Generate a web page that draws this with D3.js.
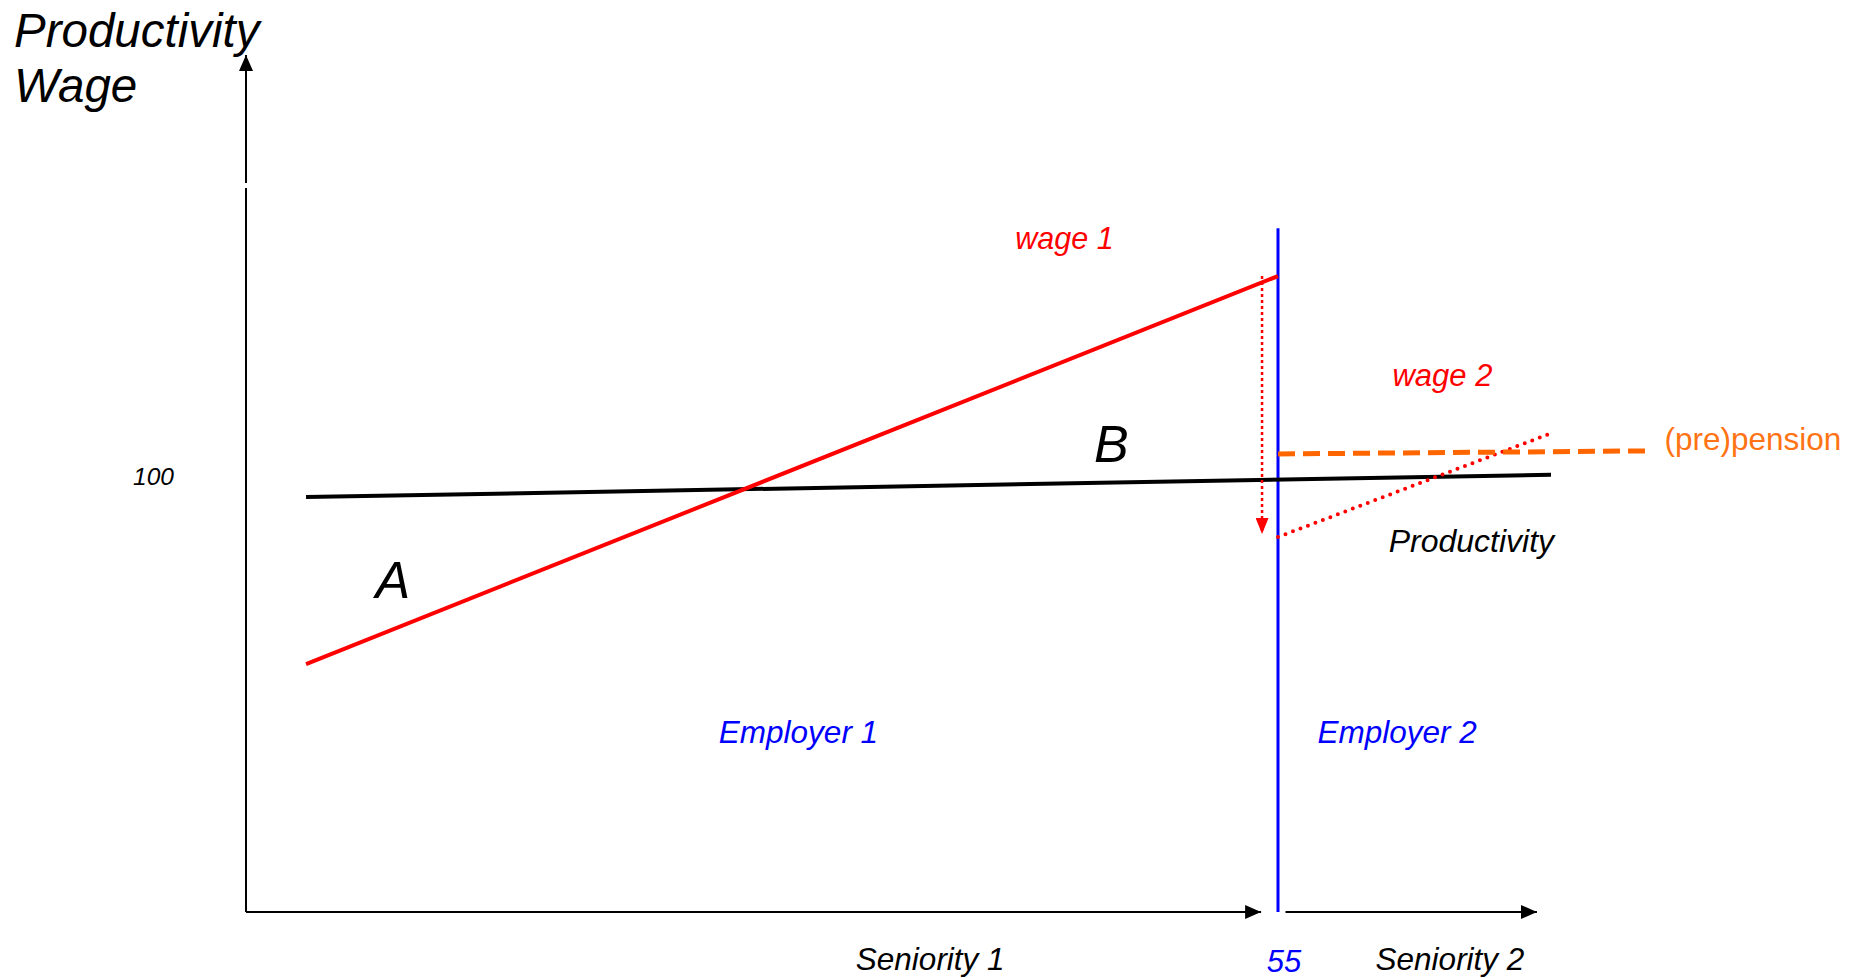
<!DOCTYPE html>
<html>
<head>
<meta charset="utf-8">
<script src="https://cdn.jsdelivr.net/npm/d3@7"></script>
<style>
  html, body { margin: 0; padding: 0; background: #fff; }
  svg { display: block; font-family: 'Liberation Sans', Arial, sans-serif; }
</style>
</head>
<body>
<div id="chart"></div>
<script>
// seniority units (0 = y axis, 55 = switch of employer), index units (100 = productivity level)
const productivity = [{ x: 3.2, y: 95.4 }, { x: 69.55, y: 100.5 }]
const wage1 = [{ x: 3.2, y: 57 }, { x: 55, y: 146.2 }]
const wageDrop = [{ x: 54.15, y: 146.2 }, { x: 54.15, y: 86.9 }]
const wage2 = [{ x: 55, y: 86.2 }, { x: 69.7, y: 110.3 }]
const pension = [{ x: 55, y: 105.3 }, { x: 74.6, y: 106 }]
const switchLine = [{ x: 55, y: 0 }, { x: 55, y: 157.2 }]
const seniorityAxes = [[0, 54.1], [55.4, 68.8]]

const labels = [
  { text: 'wage 1', x: 41.0, y: 152.4, color: '#ff0000', size: 30.5 },
  { text: 'wage 2', x: 61.1, y: 120.9, color: '#ff0000', size: 31 },
  { text: 'Productivity', x: 60.9, y: 82.8, color: '#000', size: 32 },
  { text: 'A', x: 6.9, y: 72.2, color: '#000', size: 52 },
  { text: 'B', x: 45.2, y: 103.4, color: '#000', size: 52 },
  { text: 'Employer 1', x: 25.2, y: 38.9, color: '#0000ff', size: 31.5 },
  { text: 'Employer 2', x: 57.1, y: 38.9, color: '#0000ff', size: 31.5 },
  { text: 'Seniority 1', x: 32.5, y: -13.3, color: '#000', size: 31.5 },
  { text: 'Seniority 2', x: 60.2, y: -13.3, color: '#000', size: 31.5 },
]

const width = 1850
const height = 978

const x = d3.scaleLinear().domain([0, 55]).range([246, 1278])
const y = d3.scaleLinear().domain([0, 100]).range([912, 477])

const svg = d3.select('#chart').append('svg')
  .attr('width', width)
  .attr('height', height)

const defs = svg.append('defs')
function arrow(id, color, w, l) {
  defs.append('marker')
    .attr('id', id)
    .attr('viewBox', `0 0 ${l} ${w}`)
    .attr('refX', l)
    .attr('refY', w / 2)
    .attr('markerWidth', l)
    .attr('markerHeight', w)
    .attr('markerUnits', 'userSpaceOnUse')
    .attr('orient', 'auto')
    .append('path')
    .attr('d', `M0,0L${l},${w / 2}L0,${w}Z`)
    .attr('fill', color)
}
arrow('arr-black', '#000', 14, 16)
arrow('arr-red', '#ff0000', 13, 16)

const line = d3.line().x((d) => x(d.x)).y((d) => y(d.y))

// y axis (with the small break near the top)
svg.append('line')
  .attr('x1', x(0)).attr('x2', x(0))
  .attr('y1', y(0)).attr('y2', 188)
  .attr('stroke', '#000').attr('stroke-width', 2)
svg.append('line')
  .attr('x1', x(0)).attr('x2', x(0))
  .attr('y1', 183).attr('y2', 55)
  .attr('stroke', '#000').attr('stroke-width', 2)
  .attr('marker-end', 'url(#arr-black)')

// two seniority axes
svg.selectAll('.xaxis')
  .data(seniorityAxes)
  .join('line')
  .attr('class', 'xaxis')
  .attr('x1', (d) => x(d[0])).attr('x2', (d) => x(d[1]))
  .attr('y1', y(0)).attr('y2', y(0))
  .attr('stroke', '#000').attr('stroke-width', 2)
  .attr('marker-end', 'url(#arr-black)')

svg.append('text')
  .attr('x', 14).attr('y', 47)
  .attr('font-size', 47.5).attr('font-style', 'italic')
  .text('Productivity')
svg.append('text')
  .attr('x', 14).attr('y', 102)
  .attr('font-size', 47.5).attr('font-style', 'italic')
  .text('Wage')

svg.append('text')
  .attr('x', x(0) - 72).attr('y', y(100) + 8)
  .attr('text-anchor', 'end')
  .attr('font-size', 24.5).attr('font-style', 'italic')
  .text('100')

// switch at 55
svg.append('path')
  .attr('d', line(switchLine))
  .attr('fill', 'none').attr('stroke', '#0000ff').attr('stroke-width', 3)
svg.append('text')
  .attr('x', x(55) + 6).attr('y', y(0) + 60)
  .attr('text-anchor', 'middle')
  .attr('font-size', 31).attr('font-style', 'italic')
  .attr('fill', '#0000ff')
  .text('55')

svg.append('path')
  .attr('d', line(productivity))
  .attr('fill', 'none').attr('stroke', '#000').attr('stroke-width', 4)

svg.append('path')
  .attr('d', line(wage1))
  .attr('fill', 'none').attr('stroke', '#ff0000').attr('stroke-width', 4)

svg.append('path')
  .attr('d', line(wageDrop))
  .attr('fill', 'none').attr('stroke', '#ff0000').attr('stroke-width', 2.5)
  .attr('stroke-dasharray', '3 3')
  .attr('marker-end', 'url(#arr-red)')

svg.append('path')
  .attr('d', line(wage2))
  .attr('fill', 'none').attr('stroke', '#ff0000').attr('stroke-width', 4)
  .attr('stroke-linecap', 'round')
  .attr('stroke-dasharray', '0 8')

svg.append('path')
  .attr('d', line(pension))
  .attr('fill', 'none').attr('stroke', '#ff6600').attr('stroke-width', 5)
  .attr('stroke-dasharray', '17 8')

svg.append('text')
  .attr('x', x(75.6)).attr('y', y(106.2))
  .attr('font-size', 31.5)
  .attr('fill', '#ff7314')
  .text('(pre)pension')

svg.selectAll('.lbl')
  .data(labels)
  .join('text')
  .attr('class', 'lbl')
  .attr('x', (d) => x(d.x))
  .attr('y', (d) => y(d.y))
  .attr('font-size', (d) => d.size)
  .attr('font-style', 'italic')
  .attr('fill', (d) => d.color)
  .text((d) => d.text)
</script>
</body>
</html>
